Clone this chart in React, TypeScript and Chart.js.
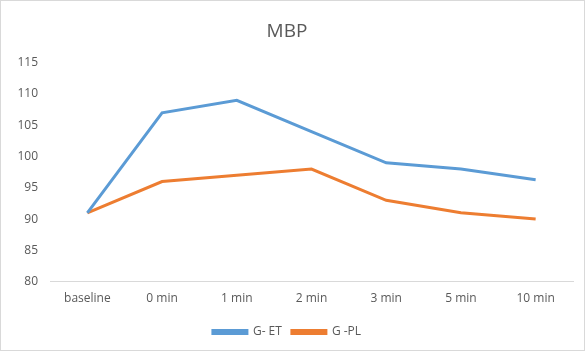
import React, { useEffect, useRef } from "react";
import { Chart, registerables } from "chart.js";

Chart.register(...registerables);

const categories = ["baseline", "0 min", "1 min", "2 min", "3 min", "5 min", "10 min"];
const gET = [91, 107, 109, 104, 99, 98, 96.3];
const gPL = [91, 96, 97, 98, 93, 91, 90];
const yMin = 80;
const yMax = 115;
const yStep = 5;

const FONT = "'Open Sans', 'Noto Sans', sans-serif";
const TXT = "#595959";

export default function App() {
  const ref = useRef<HTMLCanvasElement | null>(null);

  useEffect(() => {
    document.body.style.margin = "0";
    const chart = new Chart(ref.current!, {
      type: "line",
      data: {
        labels: categories,
        datasets: [
          {
            label: "G- ET",
            data: gET,
            borderColor: "#5b9bd5",
            backgroundColor: "#5b9bd5",
            borderWidth: 3,
            pointRadius: 0,
            tension: 0,
          },
          {
            label: "G -PL",
            data: gPL,
            borderColor: "#ed7d31",
            backgroundColor: "#ed7d31",
            borderWidth: 3,
            pointRadius: 0,
            tension: 0,
          },
        ],
      },
      options: {
        animation: false,
        responsive: true,
        maintainAspectRatio: false,
        layout: { padding: { left: 0, right: 11, top: 19, bottom: 2 } },
        plugins: {
          title: {
            display: true,
            text: "MBP",
            color: TXT,
            font: { family: FONT, size: 19, weight: "normal" },
            padding: { top: 0, bottom: 20 },
          },
          legend: {
            position: "bottom",
            labels: {
              color: TXT,
              font: { family: FONT, size: 12 },
              boxWidth: 34,
              boxHeight: 3,
              padding: 10,
            },
          },
          tooltip: { enabled: false },
        },
        scales: {
          x: {
            offset: true,
            grid: { display: false, drawTicks: false },
            border: { display: true, color: "#d9d9d9", width: 1 },
            ticks: { color: TXT, font: { family: FONT, size: 12 }, padding: 10, maxRotation: 0 },
          },
          y: {
            min: yMin,
            max: yMax,
            grid: { display: false, drawTicks: false },
            border: { display: false },
            ticks: { stepSize: yStep, color: TXT, font: { family: FONT, size: 12 }, padding: 12 },
            afterFit: (s: any) => {
              s.width = 49;
            },
          },
        },
      },
    });
    return () => chart.destroy();
  }, []);

  return (
    <div
      style={{
        width: 585,
        height: 351,
        boxSizing: "border-box",
        border: "1px solid #d9d9d9",
        position: "relative",
        background: "#fff",
      }}
    >
      <canvas ref={ref} />
    </div>
  );
}
